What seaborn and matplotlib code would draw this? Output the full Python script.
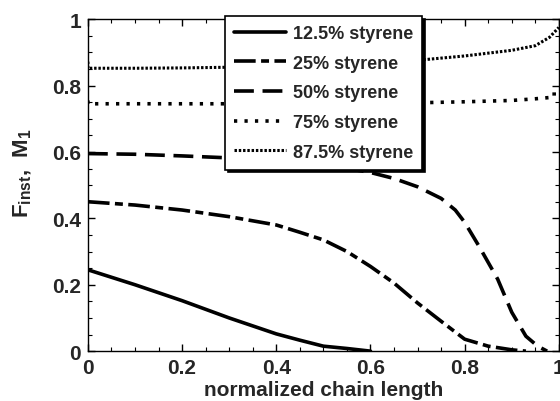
import matplotlib
matplotlib.use("Agg")
import matplotlib.pyplot as plt
import seaborn as sns
import numpy as np
import pandas as pd
from matplotlib.ticker import MultipleLocator

sns.set_theme(style="ticks")
plt.rcParams['font.family'] = ['Liberation Sans', 'DejaVu Sans']
plt.rcParams['font.weight'] = 'bold'
plt.rcParams['mathtext.fontset'] = 'custom'
plt.rcParams['mathtext.rm'] = 'Liberation Sans:bold'
plt.rcParams['mathtext.bf'] = 'Liberation Sans:bold'
plt.rcParams['mathtext.it'] = 'Liberation Sans:bold'

labels = ["12.5% styrene", "25% styrene", "50% styrene", "75% styrene", "87.5% styrene"]

x_125 = [0.0, 0.1, 0.2, 0.3, 0.4, 0.45, 0.5, 0.55, 0.6]
y_125 = [0.245, 0.20, 0.152, 0.10, 0.052, 0.033, 0.015, 0.008, 0.0]

x_25 = [0.0, 0.1, 0.2, 0.3, 0.4, 0.45, 0.5, 0.55, 0.6, 0.65, 0.7, 0.75, 0.8, 0.85, 0.9, 0.93]
y_25 = [0.45, 0.44, 0.425, 0.405, 0.38, 0.358, 0.335, 0.30, 0.255, 0.205, 0.145, 0.09, 0.036, 0.015, 0.004, 0.0]

x_50 = [0.0, 0.1, 0.2, 0.3, 0.4, 0.5, 0.6, 0.65, 0.7, 0.75, 0.78, 0.8, 0.83, 0.87, 0.9, 0.93, 0.955, 0.975]
y_50 = [0.595, 0.593, 0.588, 0.582, 0.576, 0.563, 0.538, 0.52, 0.495, 0.46, 0.425, 0.388, 0.317, 0.217, 0.117, 0.045, 0.015, 0.0]

x_75 = [0.0, 0.0, 0.1, 0.3, 0.5, 0.7, 0.8, 0.9, 0.95, 0.99, 0.99]
y_75 = [0.755, 0.745, 0.745, 0.745, 0.746, 0.748, 0.751, 0.755, 0.76, 0.765, 0.785]

x_875 = [0.0, 0.0, 0.1, 0.2, 0.3, 0.4, 0.5, 0.6, 0.7, 0.8, 0.9, 0.95, 0.98, 1.0]
y_875 = [0.872, 0.852, 0.852, 0.853, 0.855, 0.858, 0.862, 0.868, 0.876, 0.889, 0.906, 0.92, 0.945, 0.975]

fig = plt.figure(figsize=(5.6, 4.02), dpi=100)
ax = fig.add_axes([0.157, 0.124, 0.841, 0.826])

styles = [
    dict(linestyle='-', lw=2.6),
    dict(linestyle=(0, (6, 1.5, 2.2, 1.5)), lw=2.6),
    dict(linestyle=(0, (5.5, 2.4)), lw=2.6),
    dict(linestyle=(0, (0.9, 2.0)), lw=2.6),
    dict(linestyle=(0, (0.8, 0.6)), lw=2.2),
]
series = [(x_125, y_125), (x_25, y_25), (x_50, y_50), (x_75, y_75), (x_875, y_875)]
for (xs, ys), lab, st in zip(series, labels, styles):
    sns.lineplot(x=xs, y=ys, ax=ax, color='black', label=lab, sort=False,
                 estimator=None, **st)

ax.set_xlim(0, 1)
ax.set_ylim(0, 1)
ax.set_xticks([0, 0.2, 0.4, 0.6, 0.8, 1])
ax.set_xticklabels(['0', '0.2', '0.4', '0.6', '0.8', '1'])
ax.set_yticks([0, 0.2, 0.4, 0.6, 0.8, 1])
ax.set_yticklabels(['0', '0.2', '0.4', '0.6', '0.8', '1'])
ax.xaxis.set_minor_locator(MultipleLocator(0.05))
ax.yaxis.set_minor_locator(MultipleLocator(0.05))
ax.tick_params(which='both', direction='in', top=True, right=True, color='black')
ax.tick_params(which='major', length=5, width=1, labelsize=15, pad=5)
ax.tick_params(which='minor', length=3, width=0.8)
for lab in ax.get_xticklabels() + ax.get_yticklabels():
    lab.set_fontweight('bold')
for s in ax.spines.values():
    s.set_linewidth(1.0)
    s.set_color('black')

ax.set_xlabel('normalized chain length', fontsize=15, fontweight='bold', labelpad=2)
ax.set_ylabel(r'$\mathbf{F_{inst}}$,  $\mathbf{M_1}$', fontsize=16, fontweight='bold')
ax.yaxis.set_label_coords(-0.115, 0.54)

leg = ax.legend(loc='upper left', bbox_to_anchor=(225/560, 1 - 17/402),
                bbox_transform=fig.transFigure, frameon=True, fancybox=False,
                shadow={'color': 'black', 'alpha': 1}, prop={'weight': 'bold', 'size': 13},
                handlelength=2.9, labelspacing=0.7, borderpad=0.5, handletextpad=0.35,
                borderaxespad=0)
leg.get_frame().set_edgecolor('black')
leg.get_frame().set_linewidth(1.2)
leg.get_frame().set_alpha(1)

fig.savefig('out.png', dpi=100)
